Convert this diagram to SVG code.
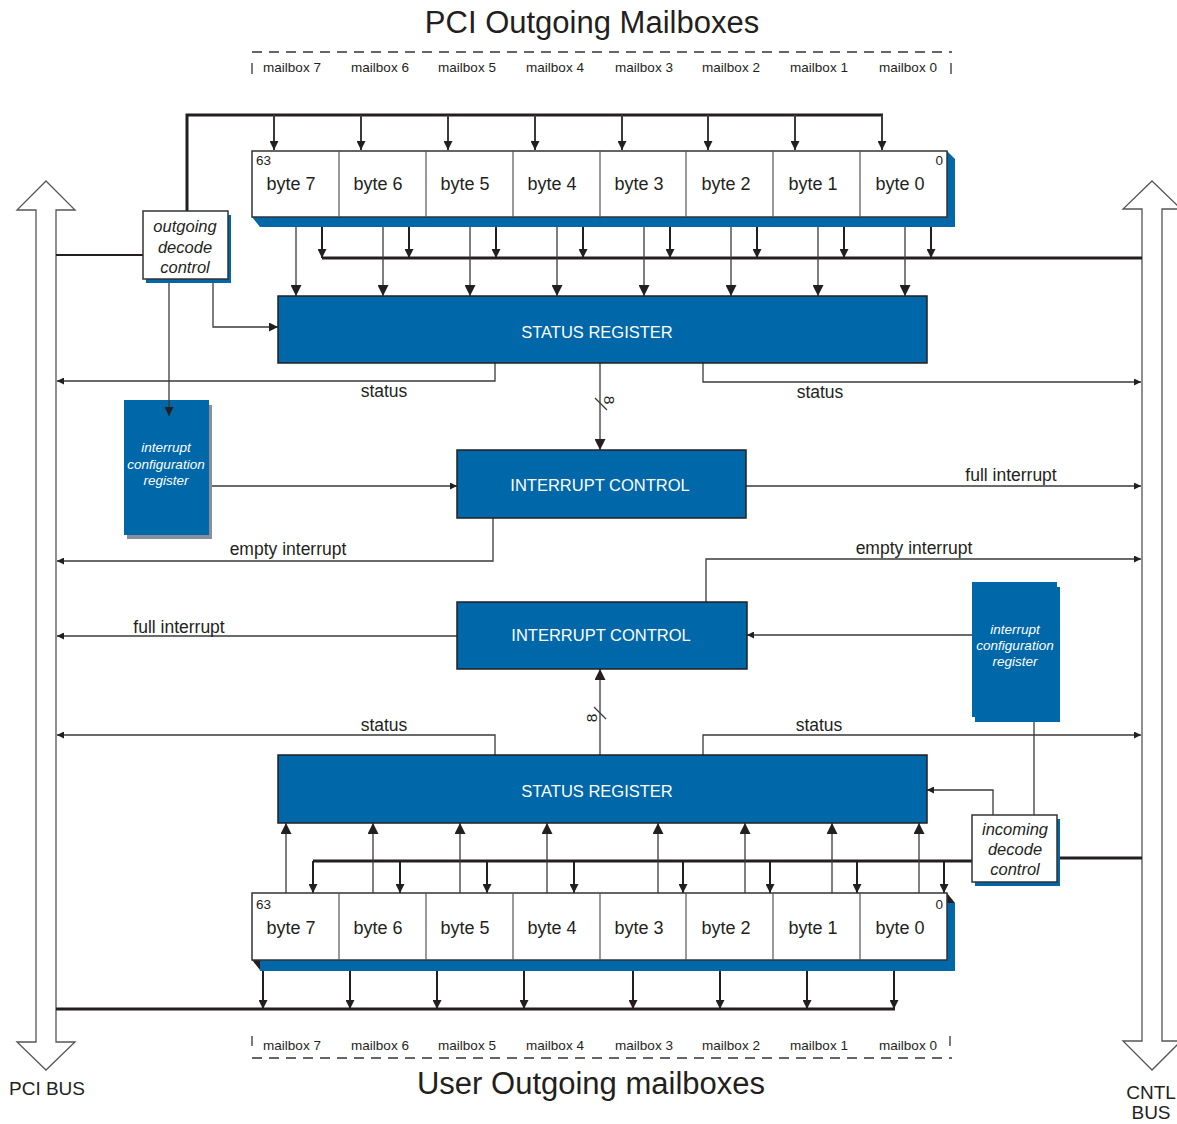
<svg xmlns="http://www.w3.org/2000/svg" width="1177" height="1124" viewBox="0 0 1177 1124">
<style>
  text { font-family: "Liberation Sans", Arial, sans-serif; fill: #231f20; }
  .title { font-size: 31px; text-anchor: middle; }
  .mb { font-size: 13.5px; text-anchor: middle; }
  .byte { font-size: 18px; text-anchor: middle; }
  .bit { font-size: 13.5px; }
  .width { font-size: 15.5px; }
  .lbl { font-size: 17.5px; text-anchor: middle; }
  .busname { font-size: 19px; text-anchor: middle; }
  .blk { fill: #0067a9; stroke: #231f20; stroke-width: 1.5; }
  .blkt { fill: #fff; font-size: 16.5px; text-anchor: middle; }
  .cfg { fill: #0067a9; }
  .cfgt { fill: #fff; font-size: 13.5px; font-style: italic; text-anchor: middle; }
  .dec { fill: #fff; stroke: #333; stroke-width: 1.5; }
  .dect { font-size: 16.5px; font-style: italic; text-anchor: middle; }
  .reg { fill: #fff; stroke: #333; stroke-width: 1.5; }
  .div { stroke: #555; stroke-width: 1.2; }
  .shade { fill: #0067a9; }
  .w { fill: none; stroke: #3a3a3a; stroke-width: 1.3; }
  .bw { fill: none; stroke: #231f20; stroke-width: 2; }
  .bus { fill: none; stroke: #231f20; stroke-width: 3; }
  .dash { fill: none; stroke: #333; stroke-width: 1.3; stroke-dasharray: 10 7; }
  .tick { stroke: #333; stroke-width: 1.3; }
  .busarrow { fill: #fff; stroke: #555; stroke-width: 1.3; }
</style>
<defs>
  <marker id="ah" viewBox="0 0 10 10" refX="10" refY="5" markerWidth="9" markerHeight="9" markerUnits="userSpaceOnUse" orient="auto">
    <path d="M0,0L10,5L0,10z" fill="#231f20"/>
  </marker>
  <marker id="ahl" viewBox="0 0 10 10" refX="10" refY="5" markerWidth="11" markerHeight="11" markerUnits="userSpaceOnUse" orient="auto">
    <path d="M0,0L10,5L0,10z" fill="#231f20"/>
  </marker>
  <marker id="ahs" viewBox="0 0 10 10" refX="10" refY="5" markerWidth="7" markerHeight="7" markerUnits="userSpaceOnUse" orient="auto">
    <path d="M0,0L10,5L0,10z" fill="#231f20"/>
  </marker>
</defs>

<!-- bus arrows -->
<g id="pci-bus">
  <polygon class="busarrow" points="46,181 75,210 56,210 56,1042 75,1042 46,1070 17,1042 36,1042 36,210 17,210"/>
  <text class="busname" x="47" y="1095">PCI BUS</text>
</g>
<g id="cntl-bus">
  <polygon class="busarrow" points="1152,181 1181,209 1162,209 1162,1041 1181,1041 1152,1070 1123,1041 1142,1041 1142,209 1123,209"/>
  <text class="busname" x="1151" y="1099">CNTL</text>
  <text class="busname" x="1151" y="1119">BUS</text>
</g>

<!-- top mailbox bracket -->
<g id="pci-mailboxes-label">
  <text class="title" x="592" y="33">PCI Outgoing Mailboxes</text>
  <line class="dash" x1="252" y1="52" x2="952" y2="52"/>
  <line class="tick" x1="252" y1="63" x2="252" y2="74"/>
  <line class="tick" x1="951" y1="63" x2="951" y2="74"/>
  <text class="mb" x="292" y="72">mailbox 7</text>
  <text class="mb" x="380" y="72">mailbox 6</text>
  <text class="mb" x="467" y="72">mailbox 5</text>
  <text class="mb" x="555" y="72">mailbox 4</text>
  <text class="mb" x="644" y="72">mailbox 3</text>
  <text class="mb" x="731" y="72">mailbox 2</text>
  <text class="mb" x="819" y="72">mailbox 1</text>
  <text class="mb" x="908" y="72">mailbox 0</text>
</g>

<!-- bottom mailbox bracket -->
<g id="user-mailboxes-label">
  <text class="mb" x="292" y="1050">mailbox 7</text>
  <text class="mb" x="380" y="1050">mailbox 6</text>
  <text class="mb" x="467" y="1050">mailbox 5</text>
  <text class="mb" x="555" y="1050">mailbox 4</text>
  <text class="mb" x="644" y="1050">mailbox 3</text>
  <text class="mb" x="731" y="1050">mailbox 2</text>
  <text class="mb" x="819" y="1050">mailbox 1</text>
  <text class="mb" x="908" y="1050">mailbox 0</text>
  <line class="tick" x1="252" y1="1036" x2="252" y2="1046"/>
  <line class="tick" x1="950" y1="1036" x2="950" y2="1046"/>
  <line class="dash" x1="252" y1="1058" x2="952" y2="1058"/>
  <text class="title" x="591" y="1094">User Outgoing mailboxes</text>
</g>

<!-- connectors -->
<g id="connectors">
  <!-- PCI side: outgoing decode and write bus -->
  <line class="bw" x1="56" y1="255" x2="143" y2="255"/>
  <polyline class="bus" points="187,212 187,115 883,115"/>
  <line class="w" x1="274" y1="115" x2="274" y2="150" marker-end="url(#ah)" style="stroke-width:2"/>
  <line class="w" x1="361" y1="115" x2="361" y2="150" marker-end="url(#ah)" style="stroke-width:2"/>
  <line class="w" x1="448" y1="115" x2="448" y2="150" marker-end="url(#ah)" style="stroke-width:2"/>
  <line class="w" x1="535" y1="115" x2="535" y2="150" marker-end="url(#ah)" style="stroke-width:2"/>
  <line class="w" x1="622" y1="115" x2="622" y2="150" marker-end="url(#ah)" style="stroke-width:2"/>
  <line class="w" x1="708" y1="115" x2="708" y2="150" marker-end="url(#ah)" style="stroke-width:2"/>
  <line class="w" x1="795" y1="115" x2="795" y2="150" marker-end="url(#ah)" style="stroke-width:2"/>
  <line class="w" x1="882" y1="115" x2="882" y2="150" marker-end="url(#ah)" style="stroke-width:2"/>

  <!-- top register to CNTL read bus -->
  <line class="bus" x1="322" y1="258" x2="1142" y2="258"/>
  <line class="bw" x1="322" y1="227" x2="322" y2="258" marker-end="url(#ah)"/>
  <line class="bw" x1="409" y1="227" x2="409" y2="258" marker-end="url(#ah)"/>
  <line class="bw" x1="496" y1="227" x2="496" y2="258" marker-end="url(#ah)"/>
  <line class="bw" x1="583" y1="227" x2="583" y2="258" marker-end="url(#ah)"/>
  <line class="bw" x1="670" y1="227" x2="670" y2="258" marker-end="url(#ah)"/>
  <line class="bw" x1="757" y1="227" x2="757" y2="258" marker-end="url(#ah)"/>
  <line class="bw" x1="844" y1="227" x2="844" y2="258" marker-end="url(#ah)"/>
  <line class="bw" x1="931" y1="227" x2="931" y2="258" marker-end="url(#ah)"/>

  <!-- top register to status register -->
  <line class="w" x1="296" y1="227" x2="296" y2="296" marker-end="url(#ahl)"/>
  <line class="w" x1="383" y1="227" x2="383" y2="296" marker-end="url(#ahl)"/>
  <line class="w" x1="470" y1="227" x2="470" y2="296" marker-end="url(#ahl)"/>
  <line class="w" x1="557" y1="227" x2="557" y2="296" marker-end="url(#ahl)"/>
  <line class="w" x1="644" y1="227" x2="644" y2="296" marker-end="url(#ahl)"/>
  <line class="w" x1="731" y1="227" x2="731" y2="296" marker-end="url(#ahl)"/>
  <line class="w" x1="818" y1="227" x2="818" y2="296" marker-end="url(#ahl)"/>
  <line class="w" x1="905" y1="227" x2="905" y2="296" marker-end="url(#ahl)"/>

  <!-- decode control outputs -->
  <line class="w" x1="169" y1="279" x2="169" y2="416" marker-end="url(#ah)"/>
  <polyline class="w" points="213,283 213,327 278,327" marker-end="url(#ah)"/>

  <!-- upper status / interrupt lines -->
  <polyline class="w" points="495,363 495,381 57,381" marker-end="url(#ahs)"/>
  <polyline class="w" points="703,363 703,382 1141,382" marker-end="url(#ahs)"/>
  <line class="w" x1="600" y1="363" x2="600" y2="450" marker-end="url(#ahl)"/>
  <line class="w" x1="595" y1="398" x2="607" y2="410"/>
  <line class="w" x1="212" y1="486" x2="457" y2="486" marker-end="url(#ahs)"/>
  <line class="w" x1="746" y1="486" x2="1141" y2="486" marker-end="url(#ahs)"/>
  <polyline class="w" points="493,518 493,561 57,561" marker-end="url(#ahs)"/>

  <!-- lower status / interrupt lines -->
  <polyline class="w" points="706,602 706,559 1141,559" marker-end="url(#ahs)"/>
  <line class="w" x1="457" y1="636" x2="57" y2="636" marker-end="url(#ahs)"/>
  <line class="w" x1="972" y1="635" x2="747" y2="635" marker-end="url(#ahs)"/>
  <line class="w" x1="600" y1="755" x2="600" y2="669" marker-end="url(#ahl)"/>
  <line class="w" x1="594" y1="707" x2="606" y2="719"/>
  <polyline class="w" points="495,755 495,735 57,735" marker-end="url(#ahs)"/>
  <polyline class="w" points="703,755 703,735 1141,735" marker-end="url(#ahs)"/>
  <line class="w" x1="1034" y1="722" x2="1034" y2="815"/>
  <polyline class="w" points="993,815 993,790 927,790" marker-end="url(#ahs)"/>

  <!-- CNTL side: incoming decode and write bus -->
  <line class="bus" x1="1060" y1="858" x2="1142" y2="858"/>
  <line class="bus" x1="313" y1="861" x2="972" y2="861"/>
  <line class="bw" x1="313" y1="861" x2="313" y2="893" marker-end="url(#ah)"/>
  <line class="bw" x1="400" y1="861" x2="400" y2="893" marker-end="url(#ah)"/>
  <line class="bw" x1="487" y1="861" x2="487" y2="893" marker-end="url(#ah)"/>
  <line class="bw" x1="574" y1="861" x2="574" y2="893" marker-end="url(#ah)"/>
  <line class="bw" x1="683" y1="861" x2="683" y2="893" marker-end="url(#ah)"/>
  <line class="bw" x1="770" y1="861" x2="770" y2="893" marker-end="url(#ah)"/>
  <line class="bw" x1="857" y1="861" x2="857" y2="893" marker-end="url(#ah)"/>
  <line class="bw" x1="944" y1="861" x2="944" y2="893" marker-end="url(#ah)"/>

  <!-- bottom register to status register -->
  <line class="w" x1="286" y1="893" x2="286" y2="823" marker-end="url(#ahl)"/>
  <line class="w" x1="373" y1="893" x2="373" y2="823" marker-end="url(#ahl)"/>
  <line class="w" x1="460" y1="893" x2="460" y2="823" marker-end="url(#ahl)"/>
  <line class="w" x1="547" y1="893" x2="547" y2="823" marker-end="url(#ahl)"/>
  <line class="w" x1="658" y1="893" x2="658" y2="823" marker-end="url(#ahl)"/>
  <line class="w" x1="745" y1="893" x2="745" y2="823" marker-end="url(#ahl)"/>
  <line class="w" x1="832" y1="893" x2="832" y2="823" marker-end="url(#ahl)"/>
  <line class="w" x1="919" y1="893" x2="919" y2="823" marker-end="url(#ahl)"/>

  <!-- bottom register to PCI read bus -->
  <line class="bus" x1="56" y1="1009" x2="895" y2="1009"/>
  <line class="bw" x1="263" y1="971" x2="263" y2="1009" marker-end="url(#ah)"/>
  <line class="bw" x1="350" y1="971" x2="350" y2="1009" marker-end="url(#ah)"/>
  <line class="bw" x1="437" y1="971" x2="437" y2="1009" marker-end="url(#ah)"/>
  <line class="bw" x1="524" y1="971" x2="524" y2="1009" marker-end="url(#ah)"/>
  <line class="bw" x1="633" y1="971" x2="633" y2="1009" marker-end="url(#ah)"/>
  <line class="bw" x1="720" y1="971" x2="720" y2="1009" marker-end="url(#ah)"/>
  <line class="bw" x1="807" y1="971" x2="807" y2="1009" marker-end="url(#ah)"/>
  <line class="bw" x1="894" y1="971" x2="894" y2="1009" marker-end="url(#ah)"/>

  <!-- connector labels -->
  <text class="lbl" x="384" y="397">status</text>
  <text class="lbl" x="820" y="398">status</text>
  <text class="lbl" x="1011" y="481">full interrupt</text>
  <text class="lbl" x="288" y="555">empty interrupt</text>
  <text class="lbl" x="914" y="554">empty interrupt</text>
  <text class="lbl" x="179" y="633">full interrupt</text>
  <text class="lbl" x="384" y="731">status</text>
  <text class="lbl" x="819" y="731">status</text>
  <text class="width" text-anchor="middle" dominant-baseline="central" transform="translate(609,400) rotate(90)">8</text>
  <text class="width" text-anchor="middle" dominant-baseline="central" transform="translate(591,718) rotate(-90)">8</text>
</g>

<!-- PCI outgoing mailbox register -->
<g id="pci-mailbox-register">
  <polygon class="shade" points="252,217 260,227 955,227 955,159 947,151 947,217"/>
  <rect class="reg" x="252" y="151" width="695" height="66"/>
  <line class="div" x1="339" y1="151" x2="339" y2="217"/>
  <line class="div" x1="426" y1="151" x2="426" y2="217"/>
  <line class="div" x1="513" y1="151" x2="513" y2="217"/>
  <line class="div" x1="600" y1="151" x2="600" y2="217"/>
  <line class="div" x1="686" y1="151" x2="686" y2="217"/>
  <line class="div" x1="773" y1="151" x2="773" y2="217"/>
  <line class="div" x1="860" y1="151" x2="860" y2="217"/>
  <text class="bit" x="256" y="165">63</text>
  <text class="bit" x="943" y="165" text-anchor="end">0</text>
  <text class="byte" x="291" y="190">byte 7</text>
  <text class="byte" x="378" y="190">byte 6</text>
  <text class="byte" x="465" y="190">byte 5</text>
  <text class="byte" x="552" y="190">byte 4</text>
  <text class="byte" x="639" y="190">byte 3</text>
  <text class="byte" x="726" y="190">byte 2</text>
  <text class="byte" x="813" y="190">byte 1</text>
  <text class="byte" x="900" y="190">byte 0</text>
</g>

<!-- outgoing decode control -->
<g id="outgoing-decode-control">
  <rect class="shade" x="146" y="215" width="85" height="68"/>
  <rect class="dec" x="143" y="211" width="85" height="68"/>
  <text class="dect" x="185" y="232">outgoing</text>
  <text class="dect" x="185" y="253">decode</text>
  <text class="dect" x="185" y="273">control</text>
</g>

<!-- upper status register -->
<g id="status-register-pci">
  <rect class="blk" x="278" y="296" width="649" height="67"/>
  <text class="blkt" x="597" y="338">STATUS REGISTER</text>
</g>

<!-- upper interrupt configuration register -->
<g id="interrupt-config-pci">
  <rect x="127" y="405" width="85" height="134" fill="#8a8f9e"/>
  <rect class="cfg" x="124" y="400" width="85" height="135"/>
  <text class="cfgt" x="166" y="452">interrupt</text>
  <text class="cfgt" x="166" y="469">configuration</text>
  <text class="cfgt" x="166" y="485">register</text>
</g>
<line class="w" x1="169" y1="400" x2="169" y2="416" marker-end="url(#ah)"/>

<!-- upper interrupt control -->
<g id="interrupt-control-pci">
  <rect class="blk" x="457" y="450" width="289" height="68"/>
  <text class="blkt" x="600" y="491">INTERRUPT CONTROL</text>
</g>

<!-- lower interrupt control -->
<g id="interrupt-control-user">
  <rect class="blk" x="457" y="602" width="290" height="67"/>
  <text class="blkt" x="601" y="641">INTERRUPT CONTROL</text>
</g>

<!-- lower interrupt configuration register -->
<g id="interrupt-config-user">
  <rect class="cfg" x="975" y="587" width="85" height="135"/>
  <rect class="cfg" x="972" y="582" width="85" height="135"/>
  <text class="cfgt" x="1015" y="634">interrupt</text>
  <text class="cfgt" x="1015" y="650">configuration</text>
  <text class="cfgt" x="1015" y="666">register</text>
</g>

<!-- lower status register -->
<g id="status-register-user">
  <rect class="blk" x="278" y="755" width="649" height="68"/>
  <text class="blkt" x="597" y="797">STATUS REGISTER</text>
</g>

<!-- incoming decode control -->
<g id="incoming-decode-control">
  <rect class="shade" x="975" y="819" width="85" height="67"/>
  <rect class="dec" x="972" y="815" width="85" height="67"/>
  <text class="dect" x="1015" y="835">incoming</text>
  <text class="dect" x="1015" y="855">decode</text>
  <text class="dect" x="1015" y="875">control</text>
</g>

<!-- user outgoing mailbox register -->
<g id="user-mailbox-register">
  <rect class="shade" x="260" y="903" width="695" height="68"/>
  <polygon points="252,960 260,960 260,970" fill="#231f20"/>
  <polygon points="947,893 955,903 947,903" fill="#231f20"/>
  <rect class="reg" x="252" y="893" width="695" height="67"/>
  <line class="div" x1="339" y1="893" x2="339" y2="960"/>
  <line class="div" x1="426" y1="893" x2="426" y2="960"/>
  <line class="div" x1="513" y1="893" x2="513" y2="960"/>
  <line class="div" x1="600" y1="893" x2="600" y2="960"/>
  <line class="div" x1="686" y1="893" x2="686" y2="960"/>
  <line class="div" x1="773" y1="893" x2="773" y2="960"/>
  <line class="div" x1="860" y1="893" x2="860" y2="960"/>
  <text class="bit" x="256" y="909">63</text>
  <text class="bit" x="943" y="909" text-anchor="end">0</text>
  <text class="byte" x="291" y="934">byte 7</text>
  <text class="byte" x="378" y="934">byte 6</text>
  <text class="byte" x="465" y="934">byte 5</text>
  <text class="byte" x="552" y="934">byte 4</text>
  <text class="byte" x="639" y="934">byte 3</text>
  <text class="byte" x="726" y="934">byte 2</text>
  <text class="byte" x="813" y="934">byte 1</text>
  <text class="byte" x="900" y="934">byte 0</text>
</g>
</svg>
